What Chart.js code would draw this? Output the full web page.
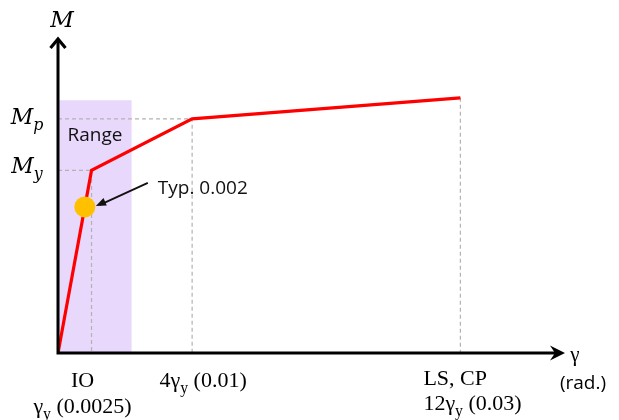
<!DOCTYPE html>
<html>
<head>
<meta charset="utf-8">
<script src="https://cdn.jsdelivr.net/npm/chart.js@4/dist/chart.umd.min.js"></script>
<style>
  html, body { margin: 0; padding: 0; background: #fff; }
</style>
</head>
<body>
<canvas id="c" width="619" height="420"></canvas>
<script>
// Idealised moment–rotation backbone curve
const gammaRad = [0, 0.0025, 0.01, 0.03];   // rotation γ (rad.)
const moment   = [0, 0.78, 1.0, 1.09];      // moment, normalised by Mp

// Typical yield-rotation range (shaded) and marker
const rangeGamma = [0, 0.0055];
const rangeMoment = [1.08, 1.08];
const typGamma = [0.002];
const typMoment = [0.624];
const typLabel = 'Typ. 0.002';

// Guide lines to the axes
const guideYield    = { g: [0, 0.0025, 0.0025], m: [0.78, 0.78, 0] };
const guidePlastic  = { g: [0, 0.01, 0.01],     m: [1.0, 1.0, 0] };
const guideUltimate = { g: [0.03, 0.03],        m: [1.09, 0] };

// Axis annotations
const perfLevels   = ['IO', '', 'LS, CP'];
const tickGammaPts = [0.0025, 0.01, 0.03];
const tickMultiple = ['', '4', '12'];
const tickRadText  = [' (0.0025)', ' (0.01)', ' (0.03)'];
const momentLabels = [{ sub: 'p', value: 1.0, dy: 5 }, { sub: 'y', value: 0.78, dy: 3 }];

const pts = (xs, ys) => xs.map((x, i) => ({ x: x, y: ys[i] }));

const SERIF = '"Liberation Serif", "Times New Roman", serif';
const MATH = '"DejaVu Serif", "Liberation Serif", serif';
const SANS = '"Open Sans", "Liberation Sans", sans-serif';

// Text runs with optional subscript pieces
function setFont(ctx, p, size, italic, family) {
  ctx.font = (italic ? 'italic ' : '') + (p.sub ? size * 0.72 : size) + 'px ' + family;
}
function runWidth(ctx, parts, size, italic, family) {
  let w = 0;
  parts.forEach(p => { setFont(ctx, p, size, italic, family); w += ctx.measureText(p.t).width; });
  return w;
}
function drawRun(ctx, parts, x, y, size, italic, align, family) {
  family = family || SERIF;
  const w = runWidth(ctx, parts, size, italic, family);
  let cx = align === 'center' ? x - w / 2 : (align === 'right' ? x - w : x);
  ctx.textAlign = 'left';
  ctx.textBaseline = 'alphabetic';
  parts.forEach(p => {
    setFont(ctx, p, size, italic, family);
    ctx.fillText(p.t, cx, p.sub ? y + size * 0.26 : y);
    cx += ctx.measureText(p.t).width;
  });
}

const decorations = {
  id: 'decorations',
  afterDatasetsDraw(chart) {
    const ctx = chart.ctx;
    const xs = chart.scales.x, ys = chart.scales.y;
    const x0 = xs.getPixelForValue(0), y0 = ys.getPixelForValue(0);
    const top = chart.chartArea.top, right = chart.chartArea.right;
    ctx.save();
    ctx.fillStyle = '#000';
    ctx.strokeStyle = '#000';

    // axes
    ctx.lineWidth = 3;
    ctx.lineCap = 'butt';
    ctx.beginPath();
    ctx.moveTo(x0, y0 + 1.5);
    ctx.lineTo(x0, top + 2);
    ctx.moveTo(x0 - 1.5, y0);
    ctx.lineTo(right - 4, y0);
    ctx.stroke();
    // vertical arrow: open chevron
    ctx.lineWidth = 3.2;
    ctx.lineJoin = 'miter';
    ctx.beginPath();
    ctx.moveTo(x0 - 7.5, top + 11);
    ctx.lineTo(x0, top + 2);
    ctx.lineTo(x0 + 7.5, top + 11);
    ctx.stroke();
    // horizontal arrow: filled head
    ctx.beginPath();
    ctx.moveTo(right, y0);
    ctx.lineTo(right - 15, y0 - 7.5);
    ctx.lineTo(right - 10, y0);
    ctx.lineTo(right - 15, y0 + 7.5);
    ctx.closePath();
    ctx.fill();

    // axis titles
    drawRun(ctx, [{ t: 'M' }], x0 + 4, top - 10, 23, true, 'center', MATH);
    drawRun(ctx, [{ t: 'γ' }], right + 10, y0 + 8, 21, false, 'center');
    ctx.font = '19px ' + SANS;
    ctx.textAlign = 'center';
    ctx.textBaseline = 'alphabetic';
    ctx.fillText('(rad.)', right + 18, y0 + 36);

    // moment levels
    momentLabels.forEach(m => {
      const y = ys.getPixelForValue(m.value);
      drawRun(ctx, [{ t: 'M' }, { t: m.sub, sub: true }], 27, y + m.dy, 22, true, 'center', MATH);
    });

    // rotation annotations
    tickGammaPts.forEach((g, i) => {
      const x = xs.getPixelForValue(g);
      const parts = [];
      if (tickMultiple[i]) parts.push({ t: tickMultiple[i] });
      parts.push({ t: 'γ' }, { t: 'y', sub: true }, { t: tickRadText[i] });
      if (perfLevels[i] && i === 0) {
        drawRun(ctx, [{ t: perfLevels[i] }], x - 9, y0 + 34, 22, false, 'center');
        drawRun(ctx, parts, x - 9, y0 + 60, 22, false, 'center');
      } else if (perfLevels[i]) {
        drawRun(ctx, [{ t: perfLevels[i] }], x - 37, y0 + 32, 22, false, 'left');
        drawRun(ctx, parts, x - 37, y0 + 57, 22, false, 'left');
      } else {
        drawRun(ctx, parts, x + 11, y0 + 34, 22, false, 'center');
      }
    });

    // range label
    ctx.font = '19px ' + SANS;
    ctx.textAlign = 'center';
    ctx.textBaseline = 'middle';
    ctx.fillStyle = '#111';
    ctx.fillText('Range', x0 + 37, ys.getPixelForValue(0.93));

    // pointer to the typical value
    const px = xs.getPixelForValue(typGamma[0]) + 11;
    const py = ys.getPixelForValue(typMoment[0]) - 1;
    const sx = px + 52, sy = py - 23;
    ctx.textAlign = 'left';
    ctx.textBaseline = 'alphabetic';
    ctx.fillText(typLabel, sx + 10, sy + 11);
    ctx.strokeStyle = '#111';
    ctx.lineWidth = 1.8;
    ctx.beginPath();
    ctx.moveTo(sx, sy);
    ctx.lineTo(px + 4, py - 1);
    ctx.stroke();
    const ang = Math.atan2(py - sy, px - sx);
    ctx.beginPath();
    ctx.moveTo(px, py);
    ctx.lineTo(px - 11 * Math.cos(ang - 0.38), py - 11 * Math.sin(ang - 0.38));
    ctx.lineTo(px - 11 * Math.cos(ang + 0.38), py - 11 * Math.sin(ang + 0.38));
    ctx.closePath();
    ctx.fillStyle = '#111';
    ctx.fill();
    ctx.restore();
  }
};

const guideStyle = {
  borderColor: '#b3b3b3', borderWidth: 1.2, borderDash: [4, 3],
  pointRadius: 0, fill: false, tension: 0, order: 4
};

new Chart(document.getElementById('c').getContext('2d'), {
  type: 'line',
  data: {
    datasets: [
      {
        data: pts(rangeGamma, rangeMoment),
        borderWidth: 0, borderColor: 'rgba(0,0,0,0)',
        backgroundColor: 'rgb(231,216,252)',
        fill: 'origin', pointRadius: 0, order: 5
      },
      Object.assign({ data: pts(guideYield.g, guideYield.m) }, guideStyle),
      Object.assign({ data: pts(guidePlastic.g, guidePlastic.m) }, guideStyle),
      Object.assign({ data: pts(guideUltimate.g, guideUltimate.m) }, guideStyle),
      {
        data: pts(gammaRad, moment),
        borderColor: '#ff0000', borderWidth: 3.2,
        pointRadius: 0, fill: false, tension: 0, order: 2,
        borderJoinStyle: 'miter'
      },
      {
        data: pts(typGamma, typMoment),
        showLine: false, pointRadius: 10.5,
        pointBackgroundColor: '#ffc000', pointBorderColor: '#ffc000',
        pointBorderWidth: 0, order: 1
      }
    ]
  },
  options: {
    responsive: false,
    animation: false,
    layout: { padding: { left: 58, right: 54, top: 37, bottom: 67 } },
    scales: {
      x: { type: 'linear', min: 0, max: 0.0378, display: false },
      y: { type: 'linear', min: 0, max: 1.35, display: false }
    },
    plugins: { legend: { display: false }, tooltip: { enabled: false } }
  },
  plugins: [decorations]
});
</script>
</body>
</html>
